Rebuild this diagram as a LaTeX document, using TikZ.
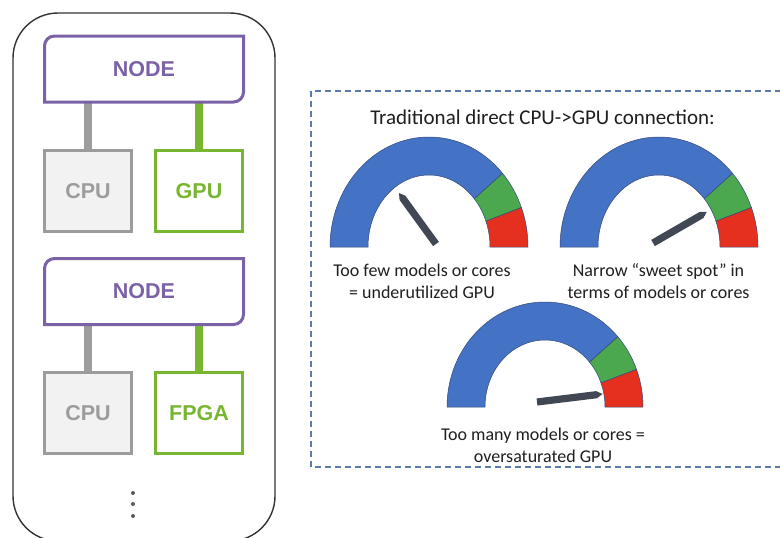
\documentclass[tikz,border=0pt]{standalone}
\usepackage{fontspec}
\newfontfamily\boxfont{Liberation Sans}
\newfontfamily\labelfont{Carlito}
\usetikzlibrary{calc}

\definecolor{nodepurple}{HTML}{7B62A6}
\definecolor{cpugray}{HTML}{9C9C9C}
\definecolor{cpufill}{HTML}{F2F2F2}
\definecolor{accgreen}{HTML}{78B530}
\definecolor{framegray}{HTML}{333333}
\definecolor{dashblue}{HTML}{5B7BAE}
\definecolor{gblue}{HTML}{4472C4}
\definecolor{ggreen}{HTML}{4CA84E}
\definecolor{gred}{HTML}{E6301F}
\definecolor{gedge}{HTML}{34497A}
\definecolor{needlegray}{HTML}{414853}

% one coloured band of a gauge: colour, from angle, to angle, outer rx, outer ry, inner rx, inner ry
\newcommand\gaugeband[7]{%
  \filldraw[fill=#1, draw=gedge, line width=0.5pt]
    (#2:#4 and #5) arc[start angle=#2, end angle=#3, x radius=#4, y radius=#5]
    -- (#3:#6 and #7) arc[start angle=#3, end angle=#2, x radius=#6, y radius=#7] -- cycle;}

% full gauge centred on a coordinate: name, outer rx, outer ry, inner rx, inner ry
\newcommand\drawgauge[5]{%
  \begin{scope}[shift={(#1)}]
    \gaugeband{gblue}{42}{180}{#2}{#3}{#4}{#5}
    \gaugeband{ggreen}{21}{42}{#2}{#3}{#4}{#5}
    \gaugeband{gred}{0}{21}{#2}{#3}{#4}{#5}
  \end{scope}}

% pointer starting at a coordinate: name, angle, length (pt)
\newcommand\drawneedle[3]{%
  \begin{scope}[shift={(#1)}, rotate=#2]
    \fill[needlegray] (0pt,-3.6pt) -- ({#3pt-6pt},-3.6pt) -- (#3pt,0pt)
      -- ({#3pt-6pt},3.6pt) -- (0pt,3.6pt) -- cycle;
  \end{scope}}

\begin{document}
\begin{tikzpicture}[x=1pt, y=-1pt,
  boxtext/.style={font=\boxfont\bfseries\fontsize{21.5}{22}\selectfont},
  hostbox/.style={boxtext, draw=none, minimum width=199pt, minimum height=66pt,
    inner sep=0pt, outer sep=0pt, text=nodepurple},
  hostline/.style={draw=nodepurple, line width=3pt},
  cpubox/.style={boxtext, draw=cpugray, fill=cpufill, line width=3.4pt,
    minimum width=86.6pt, minimum height=80.6pt, inner sep=0pt, outer sep=0pt, text=cpugray},
  accbox/.style={boxtext, draw=accgreen, fill=white, line width=3.4pt,
    minimum width=86.6pt, minimum height=80.6pt, inner sep=0pt, outer sep=0pt, text=accgreen},
  graylink/.style={draw=cpugray, line width=8pt},
  greenlink/.style={draw=accgreen, line width=8pt},
  caption/.style={font=\labelfont\fontsize{18}{22}\selectfont, align=center, text=black!88, inner sep=0pt},
  titletext/.style={font=\labelfont\fontsize{21}{24}\selectfont, text=black!88, inner sep=0pt},
]
\useasboundingbox (0,0) rectangle (780,538);
\fill[white] (0,0) rectangle (780,538);

% ---------------- left: cluster of nodes ----------------
\draw[framegray, line width=1.4pt, rounded corners=45pt] (13,13) rectangle (275,541);

\coordinate (cpu1pos) at (88,191);
\coordinate (gpupos) at (199,191);
\coordinate (cpu2pos) at (88,413);
\coordinate (fpgapos) at (199,413);

\node[hostbox] (host1) at (144,69) {};
\node[hostbox] (host2) at (144,291.5) {};

% links first so the boxes sit on top
\draw[graylink] (cpu1pos |- host1.south) -- (cpu1pos);
\draw[greenlink] (gpupos |- host1.south) -- (gpupos);
\draw[graylink] (cpu2pos |- host2.south) -- (cpu2pos);
\draw[greenlink] (fpgapos |- host2.south) -- (fpgapos);

\node[cpubox] (cpu1) at (cpu1pos) {CPU};
\node[accbox] (gpu) at (gpupos) {GPU};
\node[cpubox] (cpu2) at (cpu2pos) {CPU};
\node[accbox] (fpga) at (fpgapos) {FPGA};

% host outlines: rounded top-left and bottom-right corners
\foreach \h in {host1,host2}{
  \draw[hostline, fill=white] (\h.north east) -- ([xshift=10pt]\h.north west)
    arc[start angle=90, end angle=180, radius=10pt] -- (\h.south west)
    -- ([xshift=-10pt]\h.south east) arc[start angle=270, end angle=360, radius=10pt] -- cycle;
  \node[hostbox] at (\h) {NODE};
}

\foreach \yy in {493,504,516} \fill[black!65] (133,\yy) circle[radius=2pt];

% ---------------- right: utilisation gauges ----------------
\draw[dashblue, line width=1.1pt, dash pattern=on 6pt off 4pt] (311,91) rectangle (800,467);

\node[titletext] (title) at (542.5,117) {Traditional direct CPU->GPU connection:};

\coordinate (g1) at (429,247);
\coordinate (g2) at (659,247);
\coordinate (g3) at (545,407);
\drawgauge{g1}{99pt}{110pt}{61pt}{72pt}
\drawgauge{g2}{99pt}{110pt}{61pt}{72pt}
\drawgauge{g3}{98pt}{105pt}{60pt}{67pt}

\coordinate (p1) at (436,244);
\coordinate (p2) at (653,243);
\coordinate (p3) at (537,402);
\drawneedle{p1}{126}{63}
\drawneedle{p2}{30}{62}
\drawneedle{p3}{7}{66}

\node[caption] (cap1) at (422,281) {Too few models or cores\\= underutilized GPU};
\node[caption] (cap2) at (658.5,281) {Narrow “sweet spot” in\\terms of models or cores};
\node[caption] (cap3) at (543,445) {Too many models or cores =\\oversaturated GPU};
\end{tikzpicture}
\end{document}
